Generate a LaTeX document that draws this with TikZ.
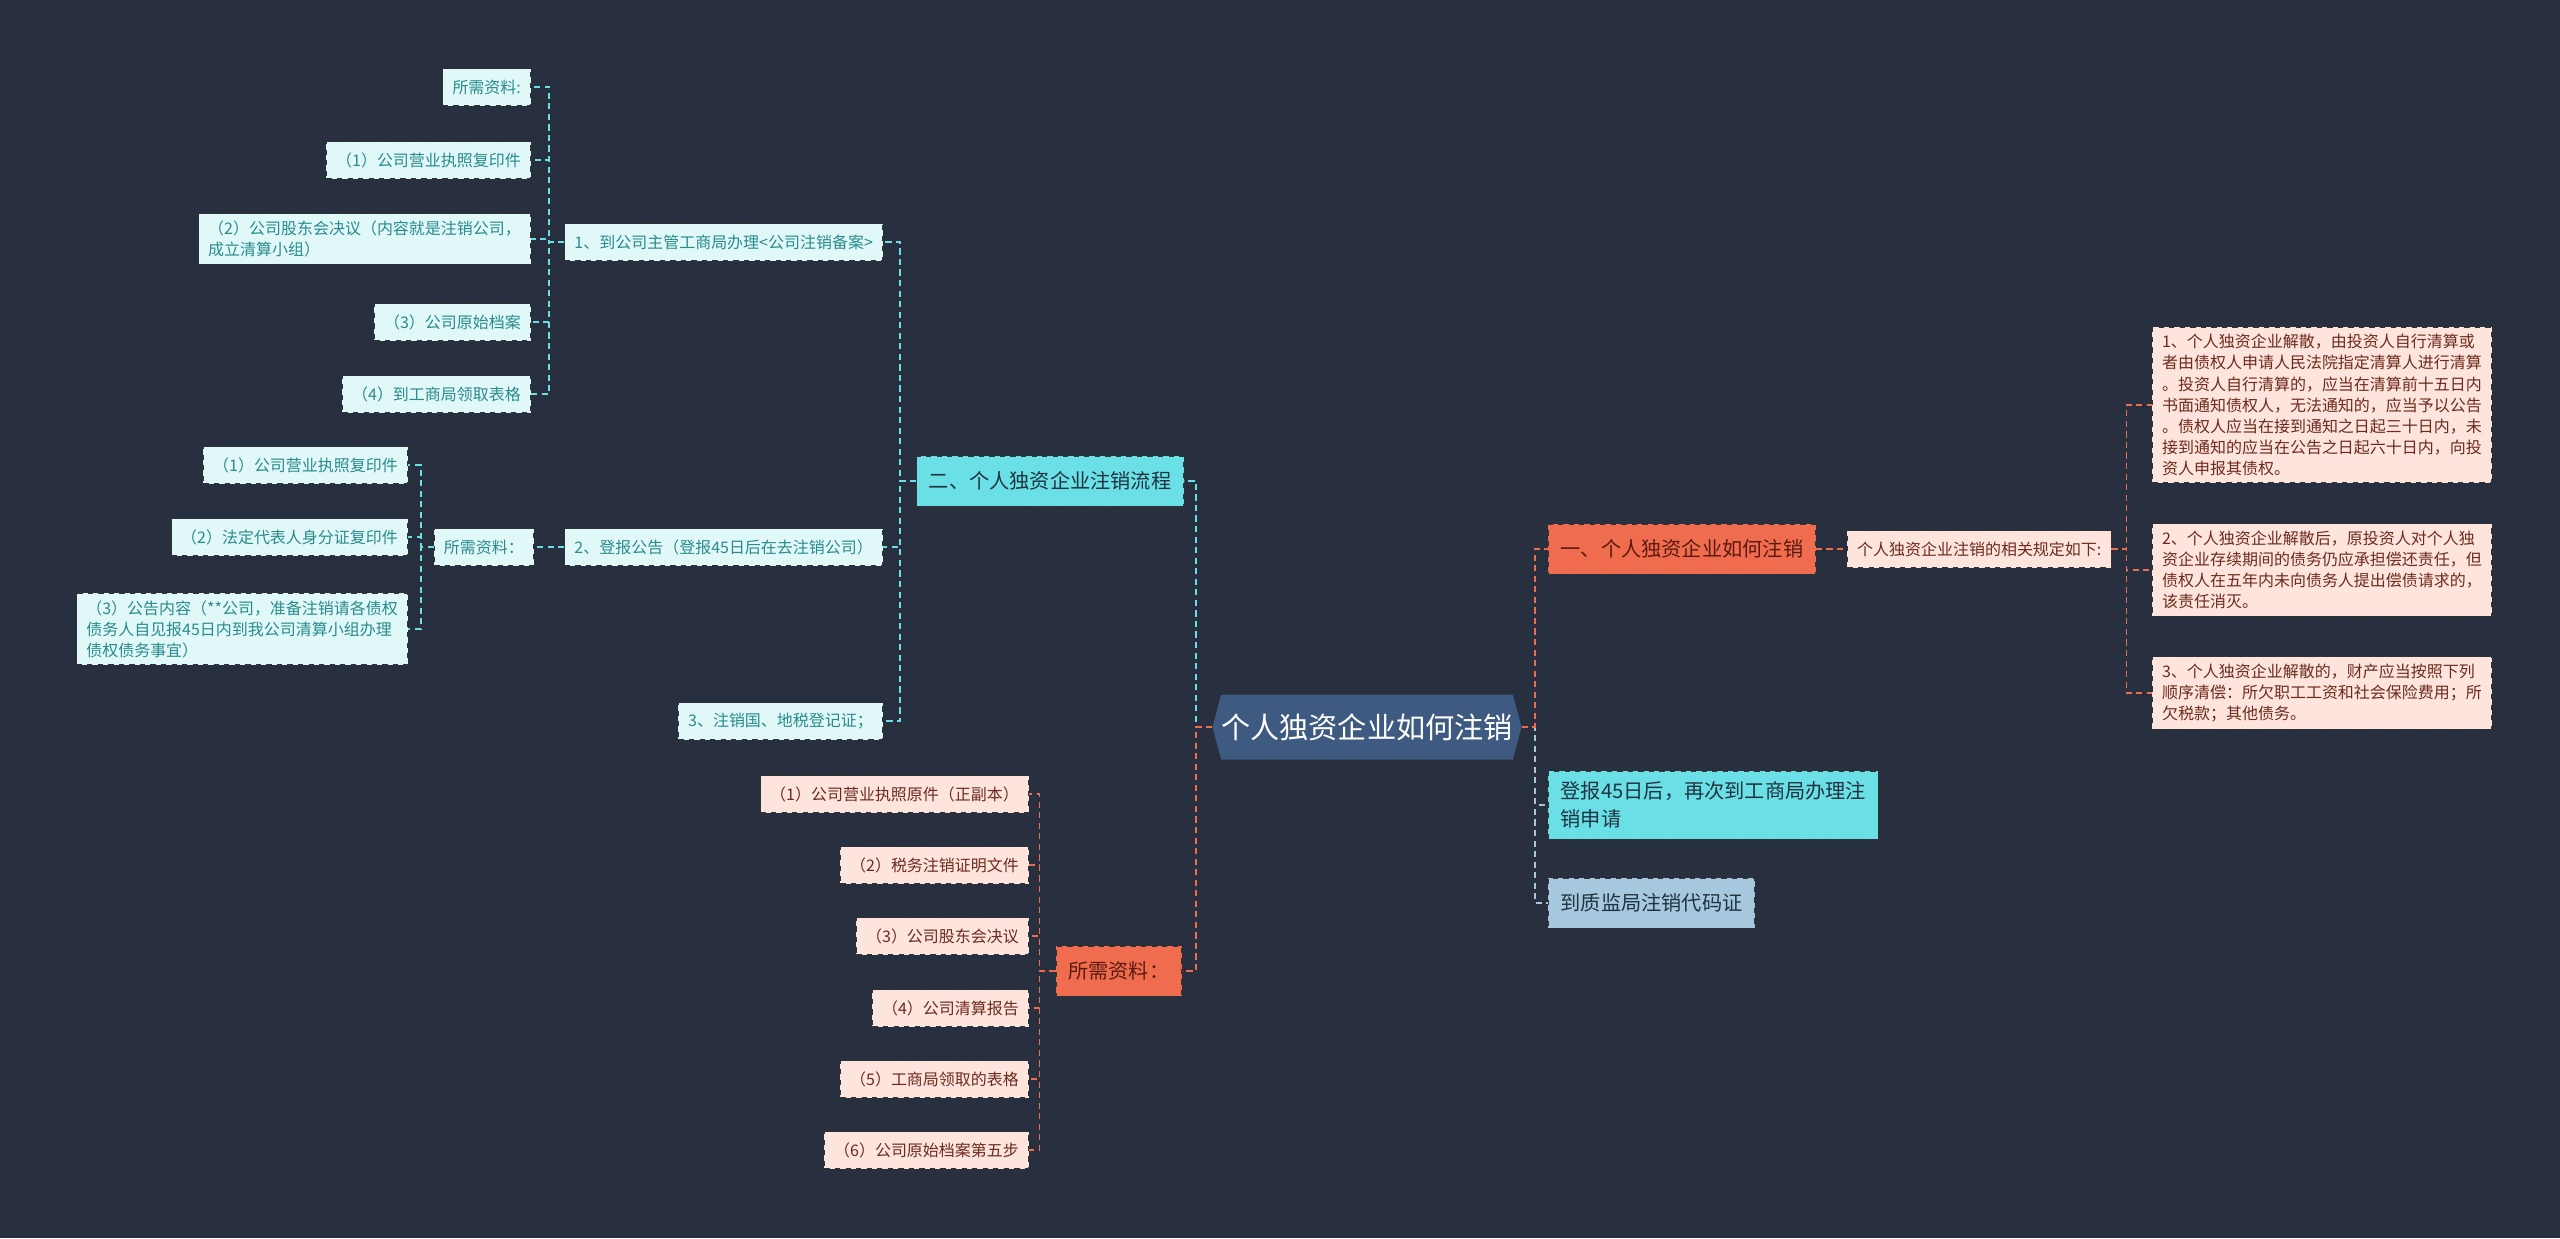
\documentclass[tikz,border=0pt]{standalone}
\usepackage{fontspec}
\setmainfont{Noto Sans CJK SC}
\usetikzlibrary{shapes.symbols}
\definecolor{bgc}{HTML}{283040}
\definecolor{rootc}{HTML}{3E5A80}
\definecolor{cyanc}{HTML}{6BDFE6}
\definecolor{icec}{HTML}{E0F8F8}
\definecolor{tealc}{HTML}{2A8A8C}
\definecolor{redc}{HTML}{F06C4F}
\definecolor{pinkc}{HTML}{FDE4DC}
\definecolor{brownc}{HTML}{6E2A1E}
\definecolor{darkredc}{HTML}{5A1A10}
\definecolor{bluec}{HTML}{A6C8DE}
\definecolor{inkc}{HTML}{1F3340}
\tikzset{box/.style={draw=black!80,dashed,line width=.5pt,inner xsep=5.5pt,inner ysep=4pt,align=left},
  leaf/.style={box,minimum height=.74cm,font=\fontsize{9.1}{12}\selectfont},
  mid/.style={box,inner xsep=7pt,inner ysep=6pt,minimum height=1cm,font=\fontsize{11.5}{16}\selectfont},
  iceleaf/.style={leaf,fill=icec,text=tealc},pinkleaf/.style={leaf,fill=pinkc,text=brownc},
  redmid/.style={mid,fill=redc,text=darkredc},cyanmid/.style={mid,fill=cyanc,text=inkc},bluemid/.style={mid,fill=bluec,text=inkc},
  rootbox/.style={shape=signal,signal to=west and east,signal pointer angle=150,fill=rootc,text=white,minimum width=6.18cm,minimum height=1.3cm,inner sep=0pt,font=\fontsize{16.6}{20}\selectfont},
  link/.style={line width=1.1pt,dash pattern=on 3.5pt off 2.5pt}}

\begin{document}
\begin{tikzpicture}[x=.02cm,y=-.02cm]
\useasboundingbox (0,0) rectangle (2560,1238);
\fill[bgc] (0,0) rectangle (2560,1238);
% centre
\node[rootbox] (root) at (1367,727) {个人独资企业如何注销};
% left, upper branch
\node[cyanmid,anchor=east] (L) at (1184,481) {二、个人独资企业注销流程};
\node[iceleaf,anchor=east] (n1) at (883,242) {1、到公司主管工商局办理<公司注销备案>};
\node[iceleaf,anchor=east] (n2) at (883,547) {2、登报公告（登报45日后在去注销公司）};
\node[iceleaf,anchor=east] (n3) at (883,721) {3、注销国、地税登记证；};
\node[iceleaf,anchor=east] (s0) at (531,87) {所需资料:};
\node[iceleaf,anchor=east] (a1) at (531,160) {（1）公司营业执照复印件};
\node[iceleaf,anchor=east] (a2) at (531,239) {（2）公司股东会决议（内容就是注销公司，\\成立清算小组）};
\node[iceleaf,anchor=east] (a3) at (531,322) {（3）公司原始档案};
\node[iceleaf,anchor=east] (a4) at (531,394) {（4）到工商局领取表格};
\node[iceleaf,anchor=east] (b0) at (534,547) {所需资料：};
\node[iceleaf,anchor=east] (b1) at (408,465) {（1）公司营业执照复印件};
\node[iceleaf,anchor=east] (b2) at (408,537) {（2）法定代表人身分证复印件};
\node[iceleaf,anchor=east] (b3) at (408,629) {（3）公告内容（**公司，准备注销请各债权\\债务人自见报45日内到我公司清算小组办理\\债权债务事宜）};
% left, lower branch
\node[redmid,anchor=east] (R) at (1182,971) {所需资料：};
\node[pinkleaf,anchor=east] (c1) at (1029,794) {（1）公司营业执照原件（正副本）};
\node[pinkleaf,anchor=east] (c2) at (1029,865) {（2）税务注销证明文件};
\node[pinkleaf,anchor=east] (c3) at (1029,936) {（3）公司股东会决议};
\node[pinkleaf,anchor=east] (c4) at (1029,1008) {（4）公司清算报告};
\node[pinkleaf,anchor=east] (c5) at (1029,1079) {（5）工商局领取的表格};
\node[pinkleaf,anchor=east] (c6) at (1029,1150) {（6）公司原始档案第五步};
% right
\node[redmid,anchor=west] (r1) at (1548,549) {一、个人独资企业如何注销};
\node[pinkleaf,anchor=west] (r2) at (1847,549) {个人独资企业注销的相关规定如下:};
\node[pinkleaf,anchor=west] (p1) at (2152,405) {1、个人独资企业解散，由投资人自行清算或\\者由债权人申请人民法院指定清算人进行清算\\。投资人自行清算的，应当在清算前十五日内\\书面通知债权人，无法通知的，应当予以公告\\。债权人应当在接到通知之日起三十日内，未\\接到通知的应当在公告之日起六十日内，向投\\资人申报其债权。};
\node[pinkleaf,anchor=west] (p2) at (2152,570) {2、个人独资企业解散后，原投资人对个人独\\资企业存续期间的债务仍应承担偿还责任，但\\债权人在五年内未向债务人提出偿债请求的，\\该责任消灭。};
\node[pinkleaf,anchor=west] (p3) at (2152,693) {3、个人独资企业解散的，财产应当按照下列\\顺序清偿：所欠职工工资和社会保险费用；所\\欠税款；其他债务。};
\node[cyanmid,anchor=west] (r3) at (1548,805) {登报45日后，再次到工商局办理注\\销申请};
\node[bluemid,anchor=west] (r4) at (1548,903) {到质监局注销代码证};
% connectors
\draw[link,cyanc] (root.west) -- ++(-16,0) |- (L.east);
\draw[link,redc] (root.west) -- ++(-16,0) |- (R.east);
\foreach \n in {n1,n2,n3} \draw[link,cyanc] (L.west) -- ++(-16,0) |- (\n.east);
\foreach \n in {s0,a1,a2,a3,a4} \draw[link,cyanc] (n1.west) -- ++(-15,0) |- (\n.east);
\draw[link,cyanc] (n2.west) -- (b0.east);
\foreach \n in {b1,b2,b3} \draw[link,cyanc] (b0.west) -- ++(-13,0) |- (\n.east);
\foreach \n in {c1,c2,c3,c4,c5,c6} \draw[link,redc] (R.west) -- ++(-16,0) |- (\n.east);
\draw[link,bluec] (root.east) -- ++(13,0) |- (r3.west);
\draw[link,bluec] (root.east) -- ++(13,0) |- (r4.west);
\draw[link,redc] (root.east) -- ++(13,0) |- (r1.west);
\draw[link,redc] (r1.east) -- (r2.west);
\foreach \n in {p1,p2,p3} \draw[link,redc] (r2.east) -- ++(15,0) |- (\n.west);
\end{tikzpicture}
\end{document}
